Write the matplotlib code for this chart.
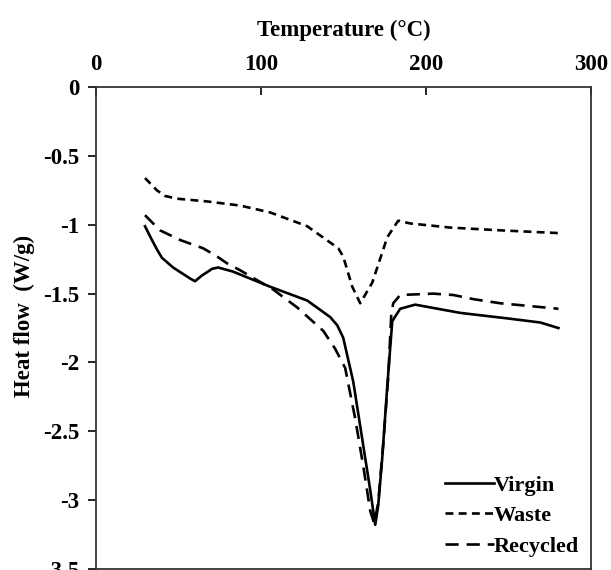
import numpy as np
import matplotlib
matplotlib.use("Agg")
import matplotlib.pyplot as plt

plt.rcParams["font.family"] = ["Liberation Serif", "DejaVu Serif"]
plt.rcParams["font.weight"] = "bold"

# DSC curves: temperature (°C) and heat flow (W/g)
virgin_t = [29.7, 33.9, 37.0, 40.0, 46.7, 57.0, 60.0, 64.0, 70.3, 74.0, 83.0,
            105.5, 127.9, 141.8, 146.1, 149.7, 155.8, 161.8, 166.1, 169.1,
            170.9, 173.3, 176.4, 179.4, 184.2, 193.3, 220.6, 249.1, 269.1,
            280.0]
virgin_hf = [-1.01, -1.11, -1.18, -1.24, -1.31, -1.39, -1.41, -1.37, -1.32,
             -1.31, -1.34, -1.45, -1.55, -1.67, -1.73, -1.82, -2.14, -2.60,
             -2.93, -3.18, -3.04, -2.70, -2.17, -1.70, -1.61, -1.58, -1.64,
             -1.68, -1.71, -1.75]

waste_t = [29.7, 37.0, 41.8, 49.0, 67.3, 87.3, 105.5, 127.9, 146.7, 149.7,
           155.2, 160.0, 167.3, 176.4, 183.0, 190.3, 214.5, 244.8, 280.0]
waste_hf = [-0.66, -0.75, -0.79, -0.81, -0.83, -0.86, -0.91, -1.01, -1.17,
            -1.23, -1.45, -1.57, -1.42, -1.09, -0.97, -0.99, -1.02, -1.04,
            -1.06]

recycled_t = [29.7, 38.8, 50.9, 64.8, 72.1, 79.4, 87.3, 107.3, 121.8, 137.6,
              144.8, 150.9, 157.0, 161.8, 166.1, 168.5, 170.9, 173.9, 177.0,
              178.8, 180.0, 184.2, 204.2, 216.4, 228.5, 244.8, 280.0]
recycled_hf = [-0.93, -1.04, -1.11, -1.17, -1.22, -1.28, -1.33, -1.47, -1.60,
               -1.77, -1.90, -2.04, -2.41, -2.75, -3.08, -3.17, -3.02, -2.60,
               -2.10, -1.65, -1.57, -1.51, -1.50, -1.51, -1.54, -1.57, -1.61]

xticks = [0, 100, 200, 300]
yticks = [0, -0.5, -1, -1.5, -2, -2.5, -3, -3.5]

fig = plt.figure(figsize=(6.11, 5.70), dpi=100)
ax = fig.add_axes([0.157, 0.002, 0.811, 0.845])

lw = 1.9
ax.plot(virgin_t, virgin_hf, "-", color="black", lw=lw, label="Virgin")
ax.plot(waste_t, waste_hf, color="black", lw=lw, dashes=(3, 2), label="Waste")
ax.plot(recycled_t, recycled_hf, color="black", lw=lw, dashes=(5, 3),
        label="Recycled")

ax.set_xlim(0, 300)
ax.set_ylim(-3.5, 0)
ax.xaxis.tick_top()
ax.xaxis.set_label_position("top")
ax.set_xticks(xticks)
ax.set_yticks(yticks)
ax.set_yticklabels([("%g" % v) for v in yticks])
ax.tick_params(axis="x", direction="in", length=6, width=1.2, pad=9,
               labelsize=16.5)
ax.tick_params(axis="y", direction="out", length=6, width=1.2, pad=6,
               labelsize=16.5)
for s in ax.spines.values():
    s.set_linewidth(1.3)
    s.set_color("#333333")

ax.set_xlabel("Temperature (°C)", fontsize=16.5, fontweight="bold", labelpad=13)
ax.set_ylabel("Heat flow  (W/g)", fontsize=16.5, fontweight="bold")
ax.yaxis.set_label_coords(-0.123, 0.525)

ax.legend(loc="lower right", frameon=False, fontsize=16, handlelength=2.2,
          handletextpad=0.0, labelspacing=0.45, borderaxespad=0.15)

plt.savefig("out.png", dpi=100)
